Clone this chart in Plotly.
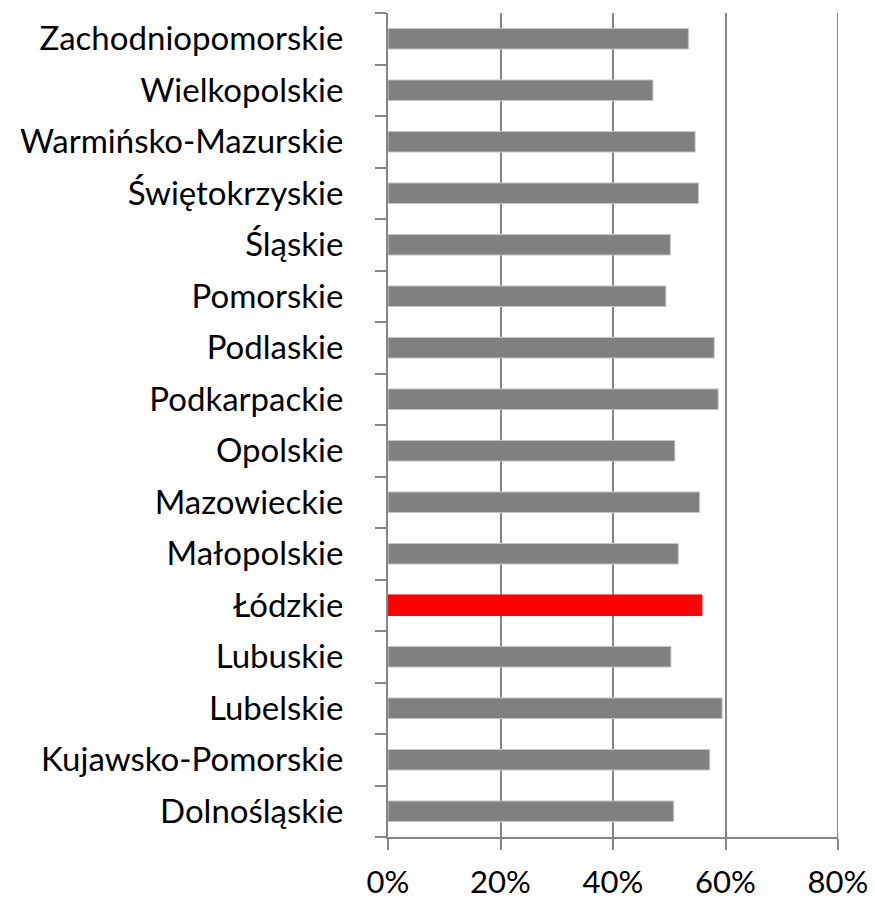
import plotly.graph_objects as go

regions = [
    "Dolnośląskie", "Kujawsko-Pomorskie", "Lubelskie", "Lubuskie", "Łódzkie",
    "Małopolskie", "Mazowieckie", "Opolskie", "Podkarpackie", "Podlaskie",
    "Pomorskie", "Śląskie", "Świętokrzyskie", "Warmińsko-Mazurskie",
    "Wielkopolskie", "Zachodniopomorskie",
]
values = [50.8, 57.2, 59.4, 50.3, 55.8, 51.6, 55.4, 51.0, 58.7, 58.0,
          49.4, 50.2, 55.2, 54.6, 47.1, 53.4]
highlight = "Łódzkie"
x_ticks = [0, 20, 40, 60, 80]
x_tick_labels = ["0%", "20%", "40%", "60%", "80%"]

colors = ["#ff0000" if r == highlight else "#808080" for r in regions]
line_colors = ["#ff0000" if r == highlight else "#c8c8c8" for r in regions]

fig = go.Figure(go.Bar(
    y=regions, x=values, orientation="h",
    marker=dict(color=colors, line=dict(color=line_colors, width=1)),
))

# Plotly hides the gridline sitting on the plot edge; draw it as a shape
fig.add_shape(type="line", xref="x", yref="paper",
              x0=x_ticks[-1], x1=x_ticks[-1], y0=0, y1=1,
              line=dict(color="#868686", width=2), layer="below")

# page body has an 8px margin, so the figure is sized/positioned to compensate
fig.update_layout(
    width=867, height=891,
    margin=dict(l=380, r=37, t=5, b=62),
    paper_bgcolor="white", plot_bgcolor="white",
    bargap=0.6,
    showlegend=False,
    font=dict(family="Lato, 'Open Sans', sans-serif", color="black"),
    xaxis=dict(
        range=[0, 80], tickvals=x_ticks, ticktext=x_tick_labels,
        showgrid=True, gridcolor="#868686", gridwidth=2,
        showline=True, linecolor="#868686", linewidth=2,
        ticks="outside", ticklen=11, tickcolor="#868686", tickwidth=2,
        tickfont=dict(size=31), zeroline=False,
        ticklabelstandoff=6, automargin=False,
    ),
    yaxis=dict(
        categoryorder="array", categoryarray=regions,
        showline=True, linecolor="#868686", linewidth=2,
        ticks="outside", ticklen=11, tickcolor="#868686", tickwidth=2,
        tickson="boundaries", showgrid=False,
        tickfont=dict(size=33), ticklabelstandoff=36, automargin=False,
    ),
)

fig.write_html("out.html")
